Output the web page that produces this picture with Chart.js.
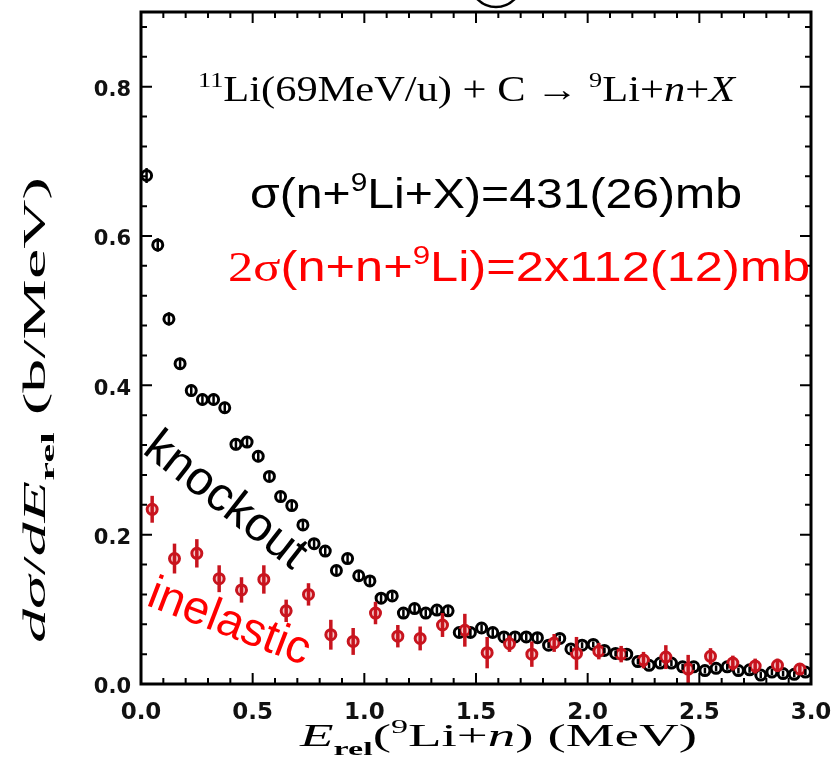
<!DOCTYPE html>
<html>
<head>
<meta charset="utf-8">
<script src="https://cdn.jsdelivr.net/npm/chart.js@4.4.1/dist/chart.umd.min.js"></script>
<style>
  html, body { margin: 0; padding: 0; background: #fff; }
  #wrap { width: 836px; height: 777px; }
</style>
</head>
<body>
<div id="wrap"><canvas id="myChart" width="836" height="777"></canvas></div>
<script>
/* knockout data (black) */
var xKnock = [0.025, 0.075, 0.125, 0.175, 0.225, 0.275, 0.325, 0.375, 0.425, 0.475,
	0.525, 0.575, 0.625, 0.675, 0.725, 0.775, 0.825, 0.875, 0.925, 0.975,
	1.025, 1.075, 1.125, 1.175, 1.225, 1.275, 1.325, 1.375, 1.425, 1.475,
	1.525, 1.575, 1.625, 1.675, 1.725, 1.775, 1.825, 1.875, 1.925, 1.975,
	2.025, 2.075, 2.125, 2.175, 2.225, 2.275, 2.325, 2.375, 2.425, 2.475,
	2.525, 2.575, 2.625, 2.675, 2.725, 2.775, 2.825, 2.875, 2.925, 2.975];
var yKnock = [0.681, 0.588, 0.489, 0.429, 0.393, 0.381, 0.381, 0.370, 0.321, 0.324,
	0.305, 0.278, 0.251, 0.239, 0.213, 0.188, 0.178, 0.152, 0.168, 0.145,
	0.138, 0.115, 0.118, 0.095, 0.101, 0.095, 0.099, 0.098, 0.069, 0.069,
	0.075, 0.069, 0.063, 0.063, 0.063, 0.062, 0.052, 0.061, 0.047, 0.052,
	0.053, 0.045, 0.041, 0.040, 0.030, 0.025, 0.028, 0.028, 0.023, 0.023,
	0.018, 0.021, 0.023, 0.018, 0.019, 0.012, 0.016, 0.014, 0.013, 0.016];
var errKnock = [0.010, 0.009, 0.009, 0.008, 0.008, 0.008, 0.008, 0.008, 0.008, 0.008,
	0.008, 0.007, 0.007, 0.007, 0.007, 0.006, 0.006, 0.006, 0.006, 0.006,
	0.006, 0.006, 0.005, 0.005, 0.005, 0.005, 0.005, 0.005, 0.005, 0.005,
	0.005, 0.005, 0.005, 0.005, 0.005, 0.005, 0.004, 0.004, 0.004, 0.004,
	0.004, 0.004, 0.004, 0.004, 0.004, 0.004, 0.004, 0.004, 0.004, 0.004,
	0.004, 0.004, 0.004, 0.004, 0.004, 0.004, 0.004, 0.004, 0.004, 0.004];

/* inelastic data (red) */
var xInel = [0.05, 0.15, 0.25, 0.35, 0.45, 0.55, 0.65, 0.75, 0.85, 0.95,
	1.05, 1.15, 1.25, 1.35, 1.45, 1.55, 1.65, 1.75, 1.85, 1.95,
	2.05, 2.15, 2.25, 2.35, 2.45, 2.55, 2.65, 2.75, 2.85, 2.95];
var yInel = [0.234, 0.168, 0.175, 0.141, 0.126, 0.140, 0.098, 0.120, 0.066, 0.057,
	0.095, 0.064, 0.061, 0.079, 0.072, 0.042, 0.054, 0.040, 0.055, 0.041,
	0.044, 0.040, 0.032, 0.036, 0.020, 0.037, 0.028, 0.024, 0.025, 0.020];
var errInel = [0.018, 0.020, 0.019, 0.018, 0.017, 0.019, 0.015, 0.015, 0.020, 0.018,
	0.015, 0.015, 0.016, 0.016, 0.022, 0.021, 0.011, 0.017, 0.012, 0.022,
	0.011, 0.011, 0.011, 0.016, 0.019, 0.011, 0.010, 0.010, 0.009, 0.007];

/* axis tick labels */
var xTicks = [0.0, 0.5, 1.0, 1.5, 2.0, 2.5, 3.0];
var yTicks = [0.0, 0.2, 0.4, 0.6, 0.8];

var xMin = 0, xMax = 3, yMin = 0, yMax = 0.9;

function pts(xs, ys) {
	var out = [];
	for (var i = 0; i < xs.length; i++) out.push({ x: xs[i], y: ys[i] });
	return out;
}

/* rich text: parts with sup/sub/italic/bold, stretched to a target width */
function partFont(p, size, family) {
	var sz = (p.sup || p.sub) ? size * 0.62 : size;
	return (p.italic ? "italic " : "") + (p.bold ? "bold " : "") + sz + "px " + (p.family || family);
}
function drawRich(ctx, parts, o) {
	ctx.save();
	var w = 0;
	parts.forEach(function(p) {
		ctx.font = partFont(p, o.size, o.family);
		w += ctx.measureText(p.t).width;
	});
	var sx = o.width ? o.width / w : 1;
	ctx.translate(o.x, o.y);
	if (o.angle) ctx.rotate(o.angle);
	ctx.scale(sx, 1);
	var cx = o.align == "center" ? -w / 2 : 0;
	ctx.textBaseline = o.baseline || "alphabetic";
	ctx.textAlign = "left";
	parts.forEach(function(p) {
		ctx.font = partFont(p, o.size, o.family);
		ctx.fillStyle = p.color || o.color;
		var dy = p.sup ? -o.size * 0.4 : (p.sub ? o.size * 0.28 : 0);
		ctx.fillText(p.t, cx, dy);
		cx += ctx.measureText(p.t).width;
	});
	ctx.restore();
}

/* frame, inward ticks, error bars and labels */
var decorPlugin = {
	id: "decor",
	afterDatasetsDraw: function(chart) {
		var ctx = chart.ctx, xa = chart.scales.x, ya = chart.scales.y;
		var sets = [
			{ xs: xKnock, ys: yKnock, es: errKnock, c: "#000000", w: 2.5 },
			{ xs: xInel, ys: yInel, es: errInel, c: "#c8141e", w: 3.5 }
		];
		ctx.save();
		sets.forEach(function(s) {
			ctx.strokeStyle = s.c;
			ctx.lineWidth = s.w;
			for (var i = 0; i < s.xs.length; i++) {
				var px = xa.getPixelForValue(s.xs[i]);
				ctx.beginPath();
				ctx.moveTo(px, ya.getPixelForValue(s.ys[i] - s.es[i]));
				ctx.lineTo(px, ya.getPixelForValue(s.ys[i] + s.es[i]));
				ctx.stroke();
			}
		});
		ctx.restore();
	},
	afterDraw: function(chart) {
		var ctx = chart.ctx, a = chart.chartArea, xa = chart.scales.x, ya = chart.scales.y;
		ctx.save();
		ctx.strokeStyle = "#000";
		ctx.lineWidth = 2;
		var i, p, len;
		for (i = 0; i <= 30; i++) {
			p = xa.getPixelForValue(i / 10);
			len = i % 5 == 0 ? 11 : 6;
			ctx.beginPath();
			ctx.moveTo(p, a.bottom); ctx.lineTo(p, a.bottom - len);
			ctx.moveTo(p, a.top); ctx.lineTo(p, a.top + len);
			ctx.stroke();
		}
		for (i = 0; i <= 22; i++) {
			p = ya.getPixelForValue(i * 0.04);
			len = i % 5 == 0 ? 11 : 6;
			ctx.beginPath();
			ctx.moveTo(a.left, p); ctx.lineTo(a.left + len, p);
			ctx.moveTo(a.right, p); ctx.lineTo(a.right - len, p);
			ctx.stroke();
		}
		ctx.lineWidth = 3;
		ctx.strokeRect(a.left, a.top, a.right - a.left, a.bottom - a.top);
		// partial circle above the frame
		ctx.lineWidth = 2.5;
		ctx.beginPath();
		ctx.arc(496, -19, 26, 0, Math.PI);
		ctx.stroke();
		ctx.restore();

		// reaction
		drawRich(ctx, [
			{ t: "11", sup: true }, { t: "Li(69MeV/u) + C \u2192 " }, { t: "9", sup: true },
			{ t: "Li+" }, { t: "n", italic: true }, { t: "+" }, { t: "X", italic: true }
		], { x: 198, y: 101, size: 35, family: "'Liberation Serif'", color: "#000", width: 537 });

		drawRich(ctx, [
			{ t: "\u03c3(n+" }, { t: "9", sup: true }, { t: "Li+X)=431(26)mb" }
		], { x: 250, y: 208, size: 43, family: "'Liberation Sans'", color: "#000", width: 492 });

		drawRich(ctx, [
			{ t: "2\u03c3", family: "'Liberation Serif'" }, { t: "(n+n+" }, { t: "9", sup: true },
			{ t: "Li)=2x112(12)mb" }
		], { x: 228, y: 281, size: 43, family: "'Liberation Sans'", color: "#ff0000", width: 582 });

		drawRich(ctx, [{ t: "knockout" }], {
			x: 225, y: 501, size: 48, family: "'Liberation Sans'", color: "#000",
			align: "center", baseline: "middle", angle: 38 * Math.PI / 180
		});
		drawRich(ctx, [{ t: "inelastic" }], {
			x: 229, y: 623, size: 47, family: "'Liberation Sans'", color: "#ff0000",
			align: "center", baseline: "middle", angle: 21 * Math.PI / 180
		});

		// axis titles
		drawRich(ctx, [
			{ t: "E", italic: true }, { t: "rel", sub: true, bold: true }, { t: "(" },
			{ t: "9", sup: true }, { t: "Li+" }, { t: "n", italic: true }, { t: ") (MeV)" }
		], { x: 300, y: 746, size: 32, family: "'Liberation Serif'", color: "#000", width: 397 });

		drawRich(ctx, [
			{ t: "d\u03c3", italic: true }, { t: "/" }, { t: "dE", italic: true },
			{ t: "rel", sub: true, bold: true }, { t: " (b/MeV)" }
		], { x: 45, y: 410, size: 32, family: "'Liberation Serif'", color: "#000",
			width: 466, align: "center", angle: -Math.PI / 2 });
	}
};

var chart = new Chart(document.getElementById("myChart"), {
	type: "scatter",
	data: {
		datasets: [
			{
				label: "knockout",
				data: pts(xKnock, yKnock),
				order: 1,
				pointStyle: "circle",
				pointRadius: 5,
				pointBorderWidth: 3,
				borderColor: "#000000",
				backgroundColor: "#ffffff"
			},
			{
				label: "inelastic",
				data: pts(xInel, yInel),
				order: 0,
				pointStyle: "circle",
				pointRadius: 5,
				pointBorderWidth: 3,
				borderColor: "#c8141e",
				backgroundColor: "#f3c9cb"
			}
		]
	},
	options: {
		responsive: false,
		animation: false,
		layout: { padding: { left: 0, right: 25, top: 12, bottom: 0 } },
		plugins: { legend: { display: false }, tooltip: { enabled: false } },
		scales: {
			x: {
				type: "linear",
				min: xMin,
				max: xMax,
				afterFit: function(s) { s.height = 93; s.paddingLeft = 0; s.paddingRight = 0; },
				afterBuildTicks: function(s) { s.ticks = xTicks.map(function(v) { return { value: v }; }); },
				grid: { display: false, drawTicks: false },
				border: { display: false },
				ticks: {
					padding: 15,
					maxRotation: 0,
					color: "#111",
					font: { family: "'DejaVu Sans'", size: 23, weight: "bold" },
					callback: function(v) { return v.toFixed(1); }
				}
			},
			y: {
				type: "linear",
				min: yMin,
				max: yMax,
				afterFit: function(s) { s.width = 141; s.paddingTop = 0; s.paddingBottom = 0; },
				afterBuildTicks: function(s) { s.ticks = yTicks.map(function(v) { return { value: v }; }); },
				grid: { display: false, drawTicks: false },
				border: { display: false },
				ticks: {
					padding: 10,
					labelOffset: 4,
					color: "#111",
					font: { family: "'DejaVu Sans'", size: 21, weight: "bold" },
					callback: function(v) { return v.toFixed(1); }
				}
			}
		}
	},
	plugins: [decorPlugin]
});
</script>
</body>
</html>
